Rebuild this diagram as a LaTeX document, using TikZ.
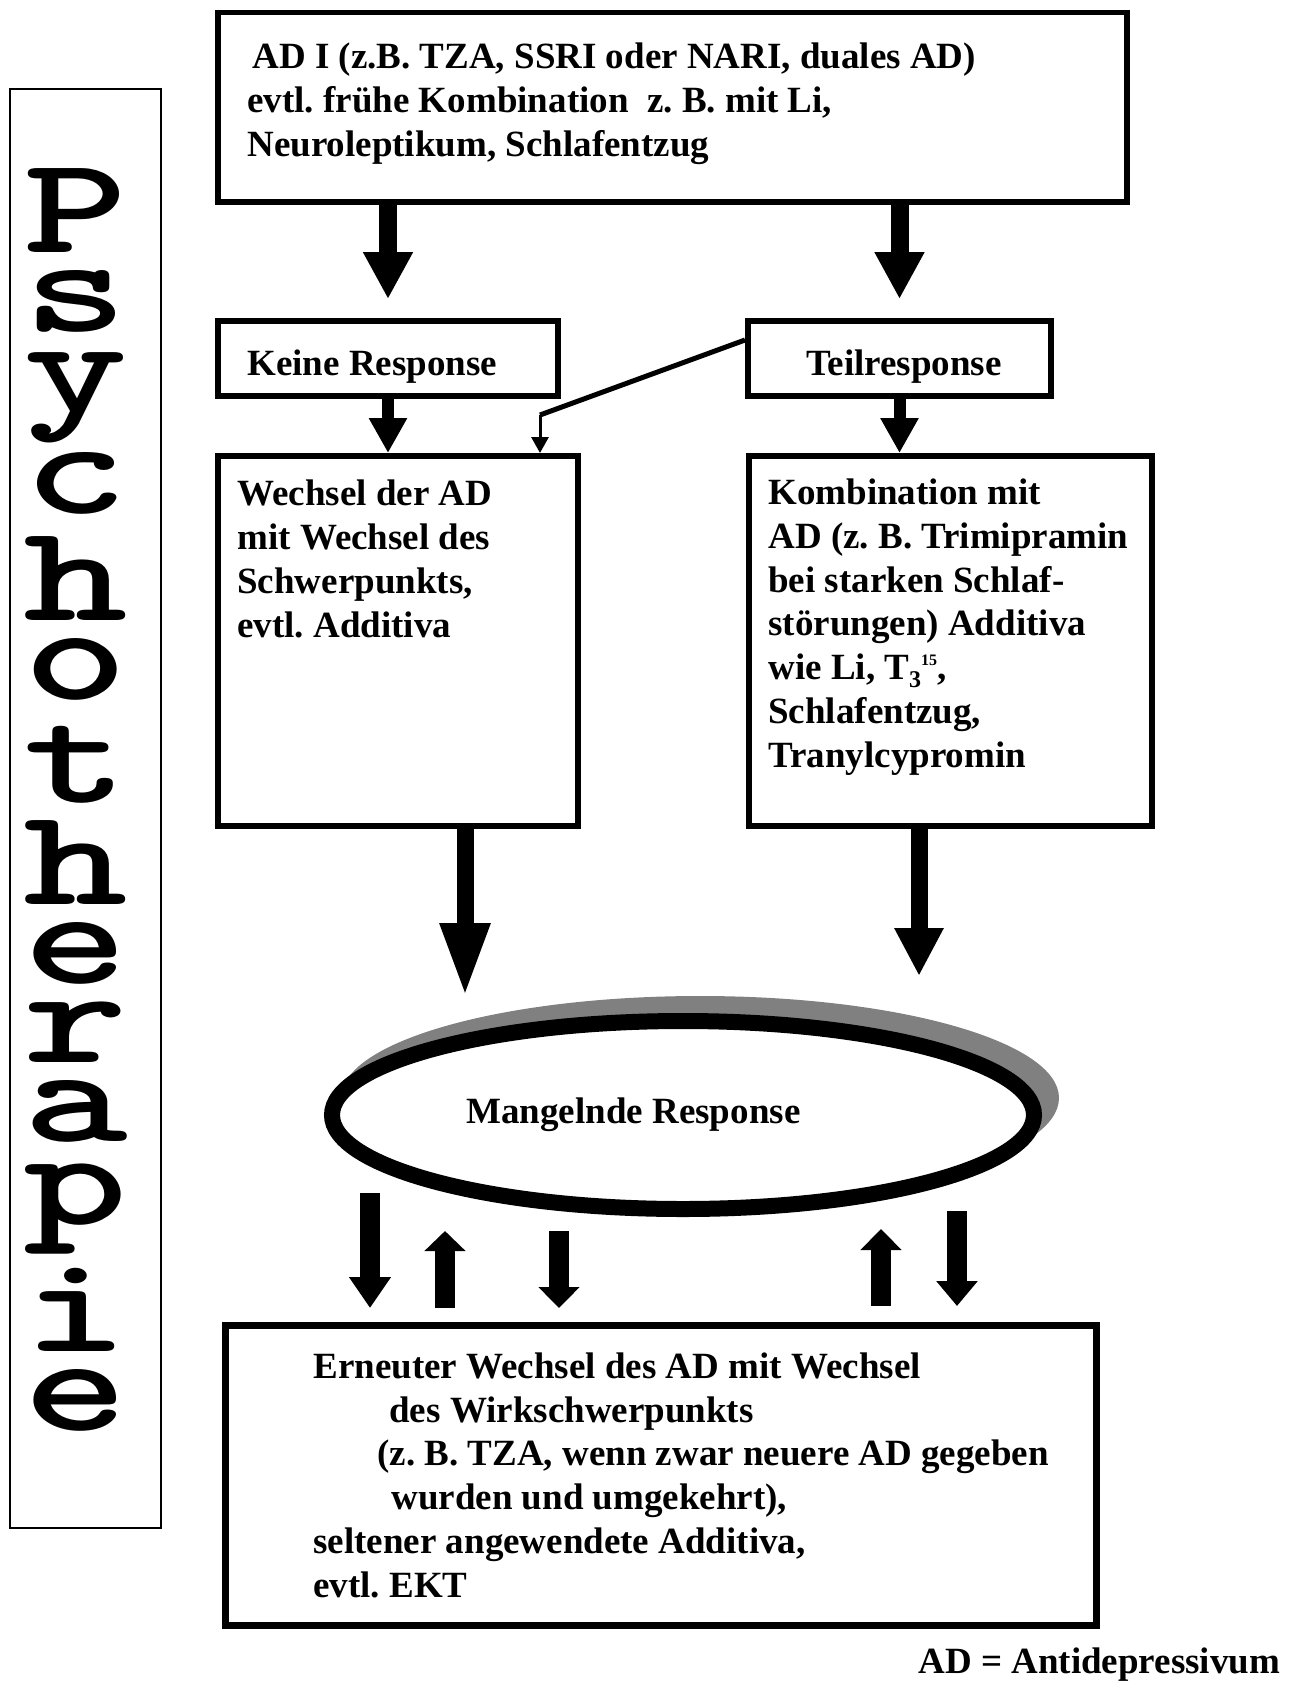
\documentclass[tikz,border=0pt]{standalone}
\usepackage{fontspec}
\usepackage{graphicx}
\setmainfont{Liberation Serif}
\usetikzlibrary{arrows.meta,shapes.geometric}
\definecolor{shadowgray}{HTML}{808080}
\frenchspacing
\begin{document}
\begin{tikzpicture}[x=0.5pt,y=-0.5pt,
  box/.style={draw, rectangle, line width=3pt, fill=white, inner sep=0pt},
  txt/.style={font=\fontsize{18.5}{21.85}\selectfont\bfseries\frenchspacing, inner sep=0pt, align=left, anchor=base west},
  psy/.style={font=\ttfamily\bfseries\fontsize{68.7}{68.7}\selectfont, inner sep=0pt, anchor=base},
  bigA/.style={line width=9pt, -{Triangle[width=23.5pt,length=23.5pt]}},
  midA/.style={line width=6pt, -{Triangle[width=18pt,length=17.5pt]}},
  thinA/.style={line width=1.5pt, -{Triangle[width=8.5pt,length=8pt]}},
  fallA/.style={line width=8.5pt, -{Triangle[width=23pt,length=#1]}},
  barA/.style={line width=10pt, -{Triangle[width=20pt,length=#1]}},
]
\useasboundingbox (0,0) rectangle (1298,1682);

% side label: one letter per line, each placed at its baseline
\node[draw, line width=1pt, minimum width=75.5pt, minimum height=719.5pt, inner sep=0pt] (frame) at (85.5,808.5) {};
\foreach \ch/\yy [count=\i] in {P/252,s/331,y/412,c/513,h/620,o/699,t/802,h/904,e/983,r/1062,a/1141,p/1224,i/1351,e/1430}
  \node[psy] (psy\i) at (76,\yy) {\scalebox{1.45}[1]{\ch}};

% boxes
\node[box, line width=2.75pt, minimum width=454.5pt, minimum height=94.75pt] (top) at (672.5,107) {};
\node[box, minimum width=170pt, minimum height=37.5pt] (keine) at (388,358.5) {};
\node[box, minimum width=151.5pt, minimum height=37.5pt] (teil) at (899.5,358.5) {};
\node[box, minimum width=180pt, minimum height=185pt] (wechsel) at (398,641) {};
\node[box, minimum width=201.5pt, minimum height=185pt] (komb) at (950.5,641) {};
\node[box, line width=3.5pt, minimum width=435.5pt, minimum height=150pt] (bottom) at (660.5,1475) {};

% ellipse with shadow
\node[ellipse, fill=shadowgray, minimum width=359pt, minimum height=102pt, inner sep=0pt] (ellshadow) at (700,1098) {};
\node[ellipse, draw, line width=8pt, fill=white, minimum width=351pt, minimum height=94pt, inner sep=0pt] (ell) at (683,1115) {};

% texts (anchored at the baseline of their last line)
\node[txt] (toptxt) at (247,156) {\hspace*{2.5pt}AD I (z.B. TZA, SSRI oder NARI, duales AD)\\evtl. frühe Kombination\ \ z. B. mit Li,\\Neuroleptikum, Schlafentzug};
\node[txt] (keinetxt) at (247,375) {Keine Response};
\node[txt] (teiltxt) at (806,375) {Teilresponse};
\node[txt] (wechseltxt) at (237,637) {Wechsel der AD\\mit Wechsel des\\Schwerpunkts,\\evtl. Additiva};
\node[txt] (kombtxt) at (768,767) {Kombination mit\\AD (z. B. Trimipramin\\bei starken Schlaf-\\störungen) Additiva\\wie Li, T\raisebox{-0.22em}{\fontsize{12}{12}\selectfont 3}\raisebox{0.38em}{\fontsize{8}{8}\selectfont 15},\\Schlafentzug,\\Tranylcypromin};
\node[txt] (mangeltxt) at (466,1123) {Mangelnde Response};
\node[txt] (bottomtxt) at (313,1597) {Erneuter Wechsel des AD mit Wechsel\\\hspace*{38pt}des Wirkschwerpunkts\\\hspace*{32pt}(z. B. TZA, wenn zwar neuere AD gegeben\\\hspace*{39pt}wurden und umgekehrt),\\seltener angewendete Additiva,\\evtl. EKT};
\node[txt] (legend) at (918,1673) {AD = Antidepressivum};

% connectors
\draw[bigA, shorten >=9.5pt] (top.south -| keine.center) -- (keine.north);
\draw[bigA, shorten >=9.5pt] (top.south -| teil.center) -- (teil.north);
\draw[midA] (keine.south) -- (keine.south |- wechsel.north);
\draw[midA] (teil.south) -- (teil.south |- komb.north);
\coordinate (kink) at (540,415);
\draw[line width=2.5pt] ([yshift=9.25pt]teil.west) -- (kink);
\draw[thinA] (kink) -- (kink |- wechsel.north);
\draw[fallA=37pt, shorten >=8pt] ([xshift=33.5pt]wechsel.south) -- ([xshift=33.5pt]wechsel.south |- ell.north);
\draw[fallA=24pt, shorten >=18.5pt] ([xshift=-15.75pt]komb.south) -- ([xshift=-15.75pt]komb.south |- ell.north);

% arrows between ellipse and bottom box
\coordinate (d1) at (370,1193);
\coordinate (u2) at (445,1231);
\coordinate (d3) at (559,1231);
\coordinate (u4) at (881,1229);
\coordinate (d5) at (957,1211);
\draw[barA=15.5pt, shorten >=6.75pt] (d1) -- (d1 |- bottom.north);
\draw[barA=10pt, shorten <=6.75pt] (u2 |- bottom.north) -- (u2);
\draw[barA=10.5pt, shorten >=6.75pt] (d3) -- (d3 |- bottom.north);
\draw[barA=10.5pt, shorten <=7.75pt] (u4 |- bottom.north) -- (u4);
\draw[barA=12.5pt, shorten >=7.75pt] (d5) -- (d5 |- bottom.north);
\end{tikzpicture}
\end{document}
